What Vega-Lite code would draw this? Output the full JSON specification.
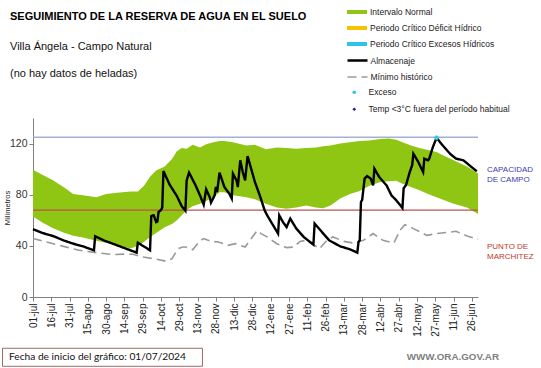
{
  "$schema": "https://vega.github.io/schema/vega-lite/v6.json",
  "width": 445,
  "height": 179,
  "autosize": {"type": "none"},
  "padding": {"left": 33, "top": 118, "right": 63, "bottom": 71},
  "background": "white",
  "title": {
    "text": "SEGUIMIENTO DE LA RESERVA DE AGUA  EN EL SUELO",
    "subtitle": ["Villa Ángela - Campo Natural", "(no hay datos de heladas)"],
    "anchor": "start",
    "frame": "group",
    "dx": -23,
    "offset": -72,
    "font": "Liberation Sans",
    "fontSize": 11,
    "fontWeight": "bold",
    "color": "#000000",
    "subtitleFont": "Liberation Sans",
    "subtitleFontSize": 11,
    "subtitleColor": "#111111",
    "subtitlePadding": 19,
    "subtitleLineHeight": 27
  },
  "datasets": {
    "banda": [
      {"fecha": "2024-07-01", "inf": 63, "sup": 99.5},
      {"fecha": "2024-07-09", "inf": 58, "sup": 95.5},
      {"fecha": "2024-07-17", "inf": 54, "sup": 91.5},
      {"fecha": "2024-07-26", "inf": 50.5, "sup": 86},
      {"fecha": "2024-08-03", "inf": 48, "sup": 80.5},
      {"fecha": "2024-08-11", "inf": 46.5, "sup": 79.5},
      {"fecha": "2024-08-22", "inf": 44, "sup": 78},
      {"fecha": "2024-08-30", "inf": 42.5, "sup": 80.5},
      {"fecha": "2024-09-08", "inf": 40.5, "sup": 81.5},
      {"fecha": "2024-09-19", "inf": 38, "sup": 82.5},
      {"fecha": "2024-09-25", "inf": 40, "sup": 82.5},
      {"fecha": "2024-09-30", "inf": 43, "sup": 87},
      {"fecha": "2024-10-05", "inf": 47, "sup": 94},
      {"fecha": "2024-10-10", "inf": 50, "sup": 99},
      {"fecha": "2024-10-17", "inf": 54.5, "sup": 102},
      {"fecha": "2024-10-23", "inf": 57, "sup": 108},
      {"fecha": "2024-10-27", "inf": 60, "sup": 114},
      {"fecha": "2024-10-31", "inf": 64, "sup": 116.5},
      {"fecha": "2024-11-04", "inf": 68, "sup": 116},
      {"fecha": "2024-11-09", "inf": 71, "sup": 119},
      {"fecha": "2024-11-15", "inf": 73, "sup": 117},
      {"fecha": "2024-11-20", "inf": 75, "sup": 119.5},
      {"fecha": "2024-11-26", "inf": 78, "sup": 121},
      {"fecha": "2024-12-01", "inf": 82, "sup": 122},
      {"fecha": "2024-12-05", "inf": 82, "sup": 122},
      {"fecha": "2024-12-12", "inf": 79.5, "sup": 121},
      {"fecha": "2024-12-23", "inf": 78, "sup": 118.5},
      {"fecha": "2024-12-30", "inf": 76.5, "sup": 119},
      {"fecha": "2025-01-08", "inf": 73, "sup": 115.5},
      {"fecha": "2025-01-17", "inf": 70, "sup": 117},
      {"fecha": "2025-01-25", "inf": 69, "sup": 116.5},
      {"fecha": "2025-02-02", "inf": 70, "sup": 116},
      {"fecha": "2025-02-10", "inf": 71.5, "sup": 116.5},
      {"fecha": "2025-02-18", "inf": 70, "sup": 117},
      {"fecha": "2025-02-24", "inf": 69.5, "sup": 118},
      {"fecha": "2025-03-02", "inf": 71.5, "sup": 118.5},
      {"fecha": "2025-03-10", "inf": 77, "sup": 120},
      {"fecha": "2025-03-18", "inf": 80.5, "sup": 121},
      {"fecha": "2025-03-26", "inf": 83, "sup": 122},
      {"fecha": "2025-04-03", "inf": 87, "sup": 122.5},
      {"fecha": "2025-04-12", "inf": 90, "sup": 123.5},
      {"fecha": "2025-04-19", "inf": 90.5, "sup": 124},
      {"fecha": "2025-04-25", "inf": 91, "sup": 123},
      {"fecha": "2025-04-30", "inf": 88.5, "sup": 121},
      {"fecha": "2025-05-07", "inf": 86, "sup": 118.5},
      {"fecha": "2025-05-14", "inf": 83.5, "sup": 116.5},
      {"fecha": "2025-05-21", "inf": 80.5, "sup": 115},
      {"fecha": "2025-05-28", "inf": 78, "sup": 113.5},
      {"fecha": "2025-06-04", "inf": 75.5, "sup": 110},
      {"fecha": "2025-06-11", "inf": 73, "sup": 107},
      {"fecha": "2025-06-22", "inf": 70, "sup": 102},
      {"fecha": "2025-07-01", "inf": 65, "sup": 96.5}
    ],
    "series": [
      {"fecha": "2024-07-01", "serie": "Mínimo histórico", "mm": 45.7},
      {"fecha": "2024-07-12", "serie": "Mínimo histórico", "mm": 43},
      {"fecha": "2024-07-26", "serie": "Mínimo histórico", "mm": 39.6},
      {"fecha": "2024-08-08", "serie": "Mínimo histórico", "mm": 36.5},
      {"fecha": "2024-08-22", "serie": "Mínimo histórico", "mm": 34.7},
      {"fecha": "2024-09-05", "serie": "Mínimo histórico", "mm": 33.2},
      {"fecha": "2024-09-13", "serie": "Mínimo histórico", "mm": 33.5},
      {"fecha": "2024-09-21", "serie": "Mínimo histórico", "mm": 33.4},
      {"fecha": "2024-09-29", "serie": "Mínimo histórico", "mm": 31.3},
      {"fecha": "2024-10-08", "serie": "Mínimo histórico", "mm": 30},
      {"fecha": "2024-10-18", "serie": "Mínimo histórico", "mm": 28},
      {"fecha": "2024-10-23", "serie": "Mínimo histórico", "mm": 30},
      {"fecha": "2024-10-28", "serie": "Mínimo histórico", "mm": 37.8},
      {"fecha": "2024-11-01", "serie": "Mínimo histórico", "mm": 39.1},
      {"fecha": "2024-11-03", "serie": "Mínimo histórico", "mm": 39.1},
      {"fecha": "2024-11-09", "serie": "Mínimo histórico", "mm": 37},
      {"fecha": "2024-11-15", "serie": "Mínimo histórico", "mm": 44},
      {"fecha": "2024-11-18", "serie": "Mínimo histórico", "mm": 45.7},
      {"fecha": "2024-11-24", "serie": "Mínimo histórico", "mm": 43.5},
      {"fecha": "2024-11-30", "serie": "Mínimo histórico", "mm": 43},
      {"fecha": "2024-12-08", "serie": "Mínimo histórico", "mm": 40.4},
      {"fecha": "2024-12-14", "serie": "Mínimo histórico", "mm": 41.7},
      {"fecha": "2024-12-22", "serie": "Mínimo histórico", "mm": 39.1},
      {"fecha": "2024-12-27", "serie": "Mínimo histórico", "mm": 45.7},
      {"fecha": "2025-01-01", "serie": "Mínimo histórico", "mm": 52},
      {"fecha": "2025-01-04", "serie": "Mínimo histórico", "mm": 49.6},
      {"fecha": "2025-01-09", "serie": "Mínimo histórico", "mm": 47},
      {"fecha": "2025-01-17", "serie": "Mínimo histórico", "mm": 41.7},
      {"fecha": "2025-01-25", "serie": "Mínimo histórico", "mm": 38.6},
      {"fecha": "2025-01-31", "serie": "Mínimo histórico", "mm": 39.1},
      {"fecha": "2025-02-05", "serie": "Mínimo histórico", "mm": 43.5},
      {"fecha": "2025-02-10", "serie": "Mínimo histórico", "mm": 44.3},
      {"fecha": "2025-02-19", "serie": "Mínimo histórico", "mm": 39.1},
      {"fecha": "2025-02-21", "serie": "Mínimo histórico", "mm": 37.8},
      {"fecha": "2025-02-27", "serie": "Mínimo histórico", "mm": 44.3},
      {"fecha": "2025-03-04", "serie": "Mínimo histórico", "mm": 47},
      {"fecha": "2025-03-13", "serie": "Mínimo histórico", "mm": 43.5},
      {"fecha": "2025-03-21", "serie": "Mínimo histórico", "mm": 42.2},
      {"fecha": "2025-03-29", "serie": "Mínimo histórico", "mm": 44.3},
      {"fecha": "2025-04-06", "serie": "Mínimo histórico", "mm": 49.6},
      {"fecha": "2025-04-14", "serie": "Mínimo histórico", "mm": 44.3},
      {"fecha": "2025-04-23", "serie": "Mínimo histórico", "mm": 42.2},
      {"fecha": "2025-04-28", "serie": "Mínimo histórico", "mm": 52.2},
      {"fecha": "2025-05-02", "serie": "Mínimo histórico", "mm": 56.6},
      {"fecha": "2025-05-09", "serie": "Mínimo histórico", "mm": 53.5},
      {"fecha": "2025-05-20", "serie": "Mínimo histórico", "mm": 48.2},
      {"fecha": "2025-05-28", "serie": "Mínimo histórico", "mm": 49.6},
      {"fecha": "2025-06-05", "serie": "Mínimo histórico", "mm": 50.4},
      {"fecha": "2025-06-13", "serie": "Mínimo histórico", "mm": 51.4},
      {"fecha": "2025-06-22", "serie": "Mínimo histórico", "mm": 47.7},
      {"fecha": "2025-07-01", "serie": "Mínimo histórico", "mm": 45.1},
      {"fecha": "2024-07-01", "serie": "Almacenaje", "mm": 53},
      {"fecha": "2024-07-09", "serie": "Almacenaje", "mm": 50},
      {"fecha": "2024-07-18", "serie": "Almacenaje", "mm": 47.5},
      {"fecha": "2024-07-26", "serie": "Almacenaje", "mm": 44.3},
      {"fecha": "2024-08-03", "serie": "Almacenaje", "mm": 41.7},
      {"fecha": "2024-08-11", "serie": "Almacenaje", "mm": 39.6},
      {"fecha": "2024-08-20", "serie": "Almacenaje", "mm": 36.5},
      {"fecha": "2024-08-21", "serie": "Almacenaje", "mm": 47.5},
      {"fecha": "2024-08-28", "serie": "Almacenaje", "mm": 44.3},
      {"fecha": "2024-09-08", "serie": "Almacenaje", "mm": 40.4},
      {"fecha": "2024-09-19", "serie": "Almacenaje", "mm": 36.5},
      {"fecha": "2024-09-24", "serie": "Almacenaje", "mm": 34.7},
      {"fecha": "2024-09-25", "serie": "Almacenaje", "mm": 42.5},
      {"fecha": "2024-10-05", "serie": "Almacenaje", "mm": 36.5},
      {"fecha": "2024-10-06", "serie": "Almacenaje", "mm": 63.3},
      {"fecha": "2024-10-08", "serie": "Almacenaje", "mm": 64},
      {"fecha": "2024-10-10", "serie": "Almacenaje", "mm": 58.6},
      {"fecha": "2024-10-11", "serie": "Almacenaje", "mm": 59},
      {"fecha": "2024-10-12", "serie": "Almacenaje", "mm": 66.5},
      {"fecha": "2024-10-14", "serie": "Almacenaje", "mm": 68},
      {"fecha": "2024-10-15", "serie": "Almacenaje", "mm": 70},
      {"fecha": "2024-10-16", "serie": "Almacenaje", "mm": 98.5},
      {"fecha": "2024-10-21", "serie": "Almacenaje", "mm": 88},
      {"fecha": "2024-10-27", "serie": "Almacenaje", "mm": 79},
      {"fecha": "2024-10-31", "serie": "Almacenaje", "mm": 71},
      {"fecha": "2024-11-03", "serie": "Almacenaje", "mm": 67.5},
      {"fecha": "2024-11-04", "serie": "Almacenaje", "mm": 91},
      {"fecha": "2024-11-06", "serie": "Almacenaje", "mm": 97.3},
      {"fecha": "2024-11-11", "serie": "Almacenaje", "mm": 88},
      {"fecha": "2024-11-15", "serie": "Almacenaje", "mm": 79.5},
      {"fecha": "2024-11-18", "serie": "Almacenaje", "mm": 72.2},
      {"fecha": "2024-11-20", "serie": "Almacenaje", "mm": 84.2},
      {"fecha": "2024-11-23", "serie": "Almacenaje", "mm": 78},
      {"fecha": "2024-11-24", "serie": "Almacenaje", "mm": 73.8},
      {"fecha": "2024-11-27", "serie": "Almacenaje", "mm": 79.5},
      {"fecha": "2024-11-28", "serie": "Almacenaje", "mm": 86},
      {"fecha": "2024-11-29", "serie": "Almacenaje", "mm": 82},
      {"fecha": "2024-12-01", "serie": "Almacenaje", "mm": 97.3},
      {"fecha": "2024-12-05", "serie": "Almacenaje", "mm": 86},
      {"fecha": "2024-12-09", "serie": "Almacenaje", "mm": 80.8},
      {"fecha": "2024-12-11", "serie": "Almacenaje", "mm": 77},
      {"fecha": "2024-12-12", "serie": "Almacenaje", "mm": 96.5},
      {"fecha": "2024-12-15", "serie": "Almacenaje", "mm": 91},
      {"fecha": "2024-12-16", "serie": "Almacenaje", "mm": 86},
      {"fecha": "2024-12-18", "serie": "Almacenaje", "mm": 106.9},
      {"fecha": "2024-12-20", "serie": "Almacenaje", "mm": 98},
      {"fecha": "2024-12-22", "serie": "Almacenaje", "mm": 91.2},
      {"fecha": "2024-12-24", "serie": "Almacenaje", "mm": 110.2},
      {"fecha": "2024-12-30", "serie": "Almacenaje", "mm": 90},
      {"fecha": "2025-01-03", "serie": "Almacenaje", "mm": 79.5},
      {"fecha": "2025-01-07", "serie": "Almacenaje", "mm": 67.8},
      {"fecha": "2025-01-09", "serie": "Almacenaje", "mm": 64},
      {"fecha": "2025-01-14", "serie": "Almacenaje", "mm": 56},
      {"fecha": "2025-01-18", "serie": "Almacenaje", "mm": 49.6},
      {"fecha": "2025-01-19", "serie": "Almacenaje", "mm": 63.9},
      {"fecha": "2025-01-22", "serie": "Almacenaje", "mm": 58.6},
      {"fecha": "2025-01-25", "serie": "Almacenaje", "mm": 54.7},
      {"fecha": "2025-01-28", "serie": "Almacenaje", "mm": 61.3},
      {"fecha": "2025-02-02", "serie": "Almacenaje", "mm": 53.5},
      {"fecha": "2025-02-08", "serie": "Almacenaje", "mm": 47},
      {"fecha": "2025-02-16", "serie": "Almacenaje", "mm": 41},
      {"fecha": "2025-02-17", "serie": "Almacenaje", "mm": 57.4},
      {"fecha": "2025-02-23", "serie": "Almacenaje", "mm": 50.8},
      {"fecha": "2025-03-01", "serie": "Almacenaje", "mm": 44.3},
      {"fecha": "2025-03-10", "serie": "Almacenaje", "mm": 39.6},
      {"fecha": "2025-03-18", "serie": "Almacenaje", "mm": 37.3},
      {"fecha": "2025-03-24", "serie": "Almacenaje", "mm": 34.7},
      {"fecha": "2025-03-25", "serie": "Almacenaje", "mm": 43},
      {"fecha": "2025-03-26", "serie": "Almacenaje", "mm": 44.3},
      {"fecha": "2025-03-27", "serie": "Almacenaje", "mm": 74.3},
      {"fecha": "2025-03-28", "serie": "Almacenaje", "mm": 76},
      {"fecha": "2025-03-30", "serie": "Almacenaje", "mm": 92.6},
      {"fecha": "2025-04-01", "serie": "Almacenaje", "mm": 94.6},
      {"fecha": "2025-04-04", "serie": "Almacenaje", "mm": 92.6},
      {"fecha": "2025-04-06", "serie": "Almacenaje", "mm": 87.3},
      {"fecha": "2025-04-07", "serie": "Almacenaje", "mm": 100.4},
      {"fecha": "2025-04-11", "serie": "Almacenaje", "mm": 93.8},
      {"fecha": "2025-04-17", "serie": "Almacenaje", "mm": 87.3},
      {"fecha": "2025-04-21", "serie": "Almacenaje", "mm": 79.5},
      {"fecha": "2025-04-25", "serie": "Almacenaje", "mm": 75.6},
      {"fecha": "2025-04-30", "serie": "Almacenaje", "mm": 69.6},
      {"fecha": "2025-05-01", "serie": "Almacenaje", "mm": 85},
      {"fecha": "2025-05-03", "serie": "Almacenaje", "mm": 87.6},
      {"fecha": "2025-05-06", "serie": "Almacenaje", "mm": 97.7},
      {"fecha": "2025-05-08", "serie": "Almacenaje", "mm": 103},
      {"fecha": "2025-05-09", "serie": "Almacenaje", "mm": 112.1},
      {"fecha": "2025-05-13", "serie": "Almacenaje", "mm": 105.6},
      {"fecha": "2025-05-17", "serie": "Almacenaje", "mm": 97.7},
      {"fecha": "2025-05-18", "serie": "Almacenaje", "mm": 108.2},
      {"fecha": "2025-05-21", "serie": "Almacenaje", "mm": 106.9},
      {"fecha": "2025-05-22", "serie": "Almacenaje", "mm": 108.2},
      {"fecha": "2025-05-25", "serie": "Almacenaje", "mm": 117.3},
      {"fecha": "2025-05-28", "serie": "Almacenaje", "mm": 124.5},
      {"fecha": "2025-06-02", "serie": "Almacenaje", "mm": 118.6},
      {"fecha": "2025-06-08", "serie": "Almacenaje", "mm": 112.1},
      {"fecha": "2025-06-13", "serie": "Almacenaje", "mm": 108.2},
      {"fecha": "2025-06-19", "serie": "Almacenaje", "mm": 106.9},
      {"fecha": "2025-06-24", "serie": "Almacenaje", "mm": 103},
      {"fecha": "2025-06-30", "serie": "Almacenaje", "mm": 98.3}
    ],
    "eventos": [
      {"fecha": "2025-05-28", "tipo": "Exceso", "mm": 124.5}
    ]
  },
  "layer": [
    {
      "data": {"name": "banda"},
      "mark": {"type": "area", "opacity": 1},
      "encoding": {
        "x": {
          "field": "fecha",
          "type": "temporal",
          "scale": {"type": "utc", "domain": [{"year": 2024, "month": 7, "date": 1, "utc": true}, {"year": 2025, "month": 7, "date": 1, "utc": true}]},
          "axis": {
            "title": null,
            "grid": false,
            "tickCount": 40,
            "values": [
              {"year": 2024, "month": 7, "date": 1, "utc": true},
              {"year": 2024, "month": 7, "date": 16, "utc": true},
              {"year": 2024, "month": 7, "date": 31, "utc": true},
              {"year": 2024, "month": 8, "date": 15, "utc": true},
              {"year": 2024, "month": 8, "date": 30, "utc": true},
              {"year": 2024, "month": 9, "date": 14, "utc": true},
              {"year": 2024, "month": 9, "date": 29, "utc": true},
              {"year": 2024, "month": 10, "date": 14, "utc": true},
              {"year": 2024, "month": 10, "date": 29, "utc": true},
              {"year": 2024, "month": 11, "date": 13, "utc": true},
              {"year": 2024, "month": 11, "date": 28, "utc": true},
              {"year": 2024, "month": 12, "date": 13, "utc": true},
              {"year": 2024, "month": 12, "date": 28, "utc": true},
              {"year": 2025, "month": 1, "date": 12, "utc": true},
              {"year": 2025, "month": 1, "date": 27, "utc": true},
              {"year": 2025, "month": 2, "date": 11, "utc": true},
              {"year": 2025, "month": 2, "date": 26, "utc": true},
              {"year": 2025, "month": 3, "date": 13, "utc": true},
              {"year": 2025, "month": 3, "date": 28, "utc": true},
              {"year": 2025, "month": 4, "date": 12, "utc": true},
              {"year": 2025, "month": 4, "date": 27, "utc": true},
              {"year": 2025, "month": 5, "date": 12, "utc": true},
              {"year": 2025, "month": 5, "date": 27, "utc": true},
              {"year": 2025, "month": 6, "date": 11, "utc": true},
              {"year": 2025, "month": 6, "date": 26, "utc": true}
            ],
            "labelExpr": "utcFormat(datum.value, '%d') + '-' + ['ene','feb','mar','abr','may','jun','jul','ago','sep','oct','nov','dic'][utcmonth(datum.value)]",
            "labelAngle": 270,
            "labelAlign": "right",
            "labelBaseline": "middle",
            "labelFont": "Liberation Sans",
            "labelFontSize": 10,
            "labelColor": "#222222",
            "labelPadding": 2,
            "labelOverlap": false,
            "labelFlush": false,
            "labelBound": false,
            "tickSize": 4,
            "tickColor": "#808080",
            "domainColor": "#808080"
          }
        },
        "y": {
          "field": "sup",
          "type": "quantitative",
          "scale": {"domain": [0, 140], "nice": false, "zero": true},
          "axis": {
            "title": "Milímetros",
            "values": [0, 20, 40, 60, 80, 100, 120, 140],
            "grid": false,
            "labelFont": "Liberation Sans",
            "labelFontSize": 10.5,
            "labelColor": "#333333",
            "labelPadding": 2,
            "tickSize": 4,
            "tickColor": "#808080",
            "domainColor": "#808080",
            "titleFont": "Liberation Sans",
            "titleFontSize": 7.5,
            "titleFontWeight": "normal",
            "titleColor": "#222222",
            "titleX": -26,
            "titleY": 89.5,
            "titleAngle": 270,
            "titleAlign": "center",
            "titleBaseline": "middle"
          }
        },
        "y2": {"field": "inf"},
        "fill": {
          "datum": "Intervalo Normal",
          "scale": {
            "domain": ["Intervalo Normal", "Periodo Crítico Déficit Hídrico", "Periodo Crítico Excesos Hídricos"],
            "range": ["#8fc614", "#f5c400", "#2ec4ea"]
          },
          "legend": {
            "orient": "none",
            "legendX": 319,
            "legendY": -111,
            "title": null,
            "symbolType": "M-2,-0.4H2V0.4H-2Z",
            "symbolSize": 100,
            "symbolStrokeWidth": 0,
            "symbolOpacity": 1,
            "labelOffset": 8,
            "labelFontSize": 8.5,
            "labelFont": "Liberation Sans",
            "labelColor": "#222222",
            "rowPadding": 6
          }
        }
      }
    },
    {
      "data": {"values": [{}]},
      "mark": {"type": "rule", "color": "#9fb3d3", "strokeWidth": 1.5},
      "encoding": {"y": {"datum": 125}}
    },
    {
      "data": {"values": [{}]},
      "mark": {"type": "rule", "color": "#c0504d", "strokeWidth": 1.2},
      "encoding": {"y": {"datum": 68}}
    },
    {
      "data": {"name": "series"},
      "mark": {"type": "line", "interpolate": "linear"},
      "encoding": {
        "x": {"field": "fecha", "type": "temporal"},
        "y": {"field": "mm", "type": "quantitative"},
        "stroke": {
          "field": "serie",
          "type": "nominal",
          "scale": {"domain": ["Almacenaje", "Mínimo histórico"], "range": ["#000000", "#999999"]},
          "legend": {
            "orient": "none",
            "legendX": 318,
            "legendY": -64,
            "title": null,
            "symbolType": "M-2,0H2",
            "symbolSize": 100,
            "labelOffset": 6.5,
            "labelFontSize": 8.5,
            "labelFont": "Liberation Sans",
            "labelColor": "#222222",
            "rowPadding": 5
          }
        },
        "strokeDash": {
          "field": "serie",
          "type": "nominal",
          "scale": {"domain": ["Almacenaje", "Mínimo histórico"], "range": [[1, 0], [9, 5]]},
          "legend": {
            "orient": "none",
            "legendX": 318,
            "legendY": -64,
            "title": null,
            "symbolType": "M-2,0H2",
            "symbolSize": 100,
            "labelOffset": 6.5,
            "labelFontSize": 8.5,
            "labelFont": "Liberation Sans",
            "labelColor": "#222222",
            "rowPadding": 5
          }
        },
        "strokeWidth": {
          "field": "serie",
          "type": "nominal",
          "scale": {"domain": ["Almacenaje", "Mínimo histórico"], "range": [2.4, 1.6]},
          "legend": {
            "orient": "none",
            "legendX": 318,
            "legendY": -64,
            "title": null,
            "symbolType": "M-2,0H2",
            "symbolSize": 100,
            "labelOffset": 6.5,
            "labelFontSize": 8.5,
            "labelFont": "Liberation Sans",
            "labelColor": "#222222",
            "rowPadding": 5
          }
        },
        "order": {"field": "serie", "sort": "descending"}
      }
    },
    {
      "data": {"name": "eventos"},
      "mark": {"type": "point", "filled": true, "opacity": 1},
      "encoding": {
        "x": {"field": "fecha", "type": "temporal"},
        "y": {"field": "mm", "type": "quantitative"},
        "color": {
          "field": "tipo",
          "type": "nominal",
          "scale": {"domain": ["Exceso", "Temp <3°C fuera del período habitual"], "range": ["#3ec6e8", "#1c1ca8"]},
          "legend": {
            "orient": "none",
            "legendX": 317,
            "legendY": -30,
            "title": null,
            "symbolSize": 14,
            "labelOffset": 10,
            "labelFontSize": 8.5,
            "labelFont": "Liberation Sans",
            "labelColor": "#222222",
            "rowPadding": 8
          }
        },
        "shape": {
          "field": "tipo",
          "type": "nominal",
          "scale": {"domain": ["Exceso", "Temp <3°C fuera del período habitual"], "range": ["circle", "diamond"]},
          "legend": {
            "orient": "none",
            "legendX": 317,
            "legendY": -30,
            "title": null,
            "symbolSize": 14,
            "labelOffset": 10,
            "labelFontSize": 8.5,
            "labelFont": "Liberation Sans",
            "labelColor": "#222222",
            "rowPadding": 8
          }
        },
        "size": {"value": 20}
      }
    },
    {
      "data": {"values": [{}]},
      "mark": {"type": "text", "align": "left", "baseline": "middle", "dx": 9, "fontSize": 8, "font": "Liberation Sans", "color": "#3c3cb4", "lineBreak": "\n", "lineHeight": 9.5},
      "encoding": {
        "x": {"datum": {"year": 2025, "month": 7, "date": 1, "utc": true}, "type": "temporal"},
        "y": {"datum": 99},
        "text": {"value": "CAPACIDAD\nDE  CAMPO"}
      }
    },
    {
      "data": {"values": [{}]},
      "mark": {"type": "text", "align": "left", "baseline": "middle", "dx": 9, "fontSize": 8, "font": "Liberation Sans", "color": "#c0392b", "lineBreak": "\n", "lineHeight": 9.5},
      "encoding": {
        "x": {"datum": {"year": 2025, "month": 7, "date": 1, "utc": true}, "type": "temporal"},
        "y": {"datum": 39},
        "text": {"value": "PUNTO   DE\nMARCHITEZ"}
      }
    },
    {
      "data": {"values": [{}]},
      "mark": {"type": "rect", "fill": "white", "stroke": "#9a6a6a", "strokeWidth": 1},
      "encoding": {
        "x": {"datum": {"year": 2024, "month": 6, "date": 6, "utc": true}, "type": "temporal"},
        "x2": {"datum": {"year": 2024, "month": 11, "date": 17, "utc": true}},
        "y": {"datum": -40.1},
        "y2": {"datum": -54.2}
      }
    },
    {
      "data": {"values": [{}]},
      "mark": {"type": "text", "align": "left", "baseline": "middle", "dx": -24, "fontSize": 10.2, "font": "Lato", "color": "#111111"},
      "encoding": {
        "x": {"datum": {"year": 2024, "month": 7, "date": 1, "utc": true}, "type": "temporal"},
        "y": {"datum": -47.2},
        "text": {"value": "Fecha de inicio del gráfico:  01/07/2024"}
      }
    },
    {
      "data": {"values": [{}]},
      "mark": {"type": "text", "align": "right", "baseline": "middle", "dx": 21, "fontSize": 9.8, "fontWeight": "bold", "font": "Liberation Sans", "color": "#808080"},
      "encoding": {
        "x": {"datum": {"year": 2025, "month": 7, "date": 1, "utc": true}, "type": "temporal"},
        "y": {"datum": -47.2},
        "text": {"value": "WWW.ORA.GOV.AR"}
      }
    }
  ],
  "config": {
    "view": {"stroke": null},
    "font": "Liberation Sans"
  }
}
